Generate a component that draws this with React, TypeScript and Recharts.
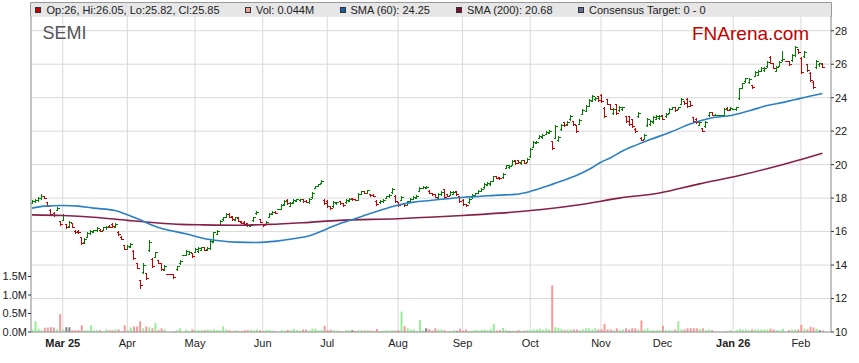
import React from 'react'
import { Bar, CartesianGrid, Cell, ComposedChart, Line, XAxis, YAxis } from 'recharts'

// one row per trading day: [open, high, low, close, volume (M)]
const feb25 = [
    [17.72, 17.88, 17.68, 17.82, 0.06], [17.8, 17.92, 17.76, 17.88, 0.29], [17.86, 18.05, 17.84, 18.0, 0.09],
    [17.98, 18.22, 17.95, 18.15, 0.05], [18.12, 18.15, 17.98, 18.02, 0.11], [17.75, 17.78, 17.5, 17.55, 0.12],
    [17.3, 17.32, 17.0, 17.05, 0.13], [17.12, 17.15, 16.95, 16.98, 0.12], [17.3, 17.48, 17.28, 17.42, 0.07],
    [16.62, 16.66, 16.42, 16.45, 0.48],
]
const mar25 = [
    [16.72, 17.06, 16.7, 16.98, 0.07], [16.45, 16.48, 16.22, 16.28, 0.13], [16.32, 16.62, 16.3, 16.55, 0.13],
    [16.5, 16.52, 16.25, 16.3, 0.05], [16.05, 16.1, 15.9, 15.95, 0.05], [16.05, 16.1, 15.92, 15.98, 0.05],
    [15.65, 15.68, 15.27, 15.32, 0.18], [15.35, 15.6, 15.33, 15.55, 0.05], [15.7, 15.96, 15.67, 15.9, 0.05],
    [15.9, 16.1, 15.88, 16.05, 0.18], [16.0, 16.12, 15.98, 16.08, 0.05], [16.08, 16.27, 16.05, 16.22, 0.05],
    [16.12, 16.15, 16.02, 16.05, 0.05], [16.1, 16.3, 16.08, 16.25, 0.02], [16.25, 16.35, 16.18, 16.3, 0.07],
    [16.35, 16.38, 16.25, 16.28, 0.05], [16.45, 16.5, 16.3, 16.32, 0.05], [16.3, 16.5, 16.28, 16.45, 0.07],
    [16.0, 16.02, 15.8, 15.85, 0.07], [15.7, 15.72, 15.55, 15.58, 0.02], [15.2, 15.22, 14.93, 14.98, 0.18],
]
const apr25 = [
    [14.98, 15.2, 14.95, 15.15, 0.05], [15.1, 15.3, 15.05, 15.25, 0.12], [14.85, 14.88, 14.34, 14.4, 0.15],
    [14.1, 14.12, 13.8, 13.85, 0.15], [13.1, 13.12, 12.65, 12.8, 0.29], [13.6, 14.1, 13.55, 14.0, 0.1],
    [13.5, 13.52, 13.15, 13.2, 0.15], [14.87, 15.5, 14.85, 15.4, 0.13], [14.35, 14.4, 13.87, 13.95, 0.1],
    [14.5, 14.8, 14.48, 14.75, 0.24], [14.3, 14.32, 14.1, 14.15, 0.05], [14.1, 14.12, 13.7, 13.75, 0.1],
    [13.72, 14.0, 13.7, 13.92, 0.07], [13.45, 13.47, 13.2, 13.3, 0.02], [13.75, 13.95, 13.7, 13.92, 0.05],
    [14.1, 14.3, 14.08, 14.25, 0.1], [14.62, 14.9, 14.6, 14.85, 0.07], [14.68, 14.85, 14.65, 14.8, 0.03],
    [14.7, 14.72, 14.5, 14.55, 0.07],
]
const may25 = [
    [14.8, 15.0, 14.78, 14.95, 0.05], [14.85, 15.05, 14.8, 15.0, 0.05], [14.9, 15.1, 14.88, 15.05, 0.05],
    [15.08, 15.1, 14.88, 14.92, 0.05], [14.95, 15.05, 14.9, 15.02, 0.07], [15.0, 15.5, 14.98, 15.45, 0.05],
    [15.4, 16.0, 15.37, 15.95, 0.07], [15.85, 16.07, 15.83, 16.02, 0.05], [16.4, 16.7, 16.37, 16.65, 0.05],
    [16.75, 16.9, 16.72, 16.88, 0.15], [16.9, 17.12, 16.88, 17.08, 0.07], [17.08, 17.1, 16.85, 16.9, 0.05],
    [16.92, 16.95, 16.7, 16.75, 0.03], [16.72, 16.9, 16.7, 16.85, 0.05], [16.84, 16.86, 16.62, 16.66, 0.03],
    [16.6, 16.62, 16.5, 16.52, 0.03], [16.58, 16.62, 16.43, 16.46, 0.05], [16.5, 16.5, 16.35, 16.38, 0.05],
    [16.36, 16.45, 16.35, 16.43, 0.06], [16.68, 16.9, 16.66, 16.85, 0.05], [17.1, 17.2, 17.08, 17.18, 0.06],
    [16.75, 16.77, 16.55, 16.58, 0.05],
]
const jun25 = [
    [16.45, 16.47, 16.35, 16.37, 0.03], [16.45, 16.65, 16.43, 16.6, 0.05], [16.9, 17.1, 16.88, 17.05, 0.06],
    [17.1, 17.2, 17.08, 17.18, 0.04], [17.18, 17.2, 17.1, 17.12, 0.03], [17.36, 17.66, 17.35, 17.6, 0.05],
    [17.62, 17.86, 17.6, 17.82, 0.04], [17.9, 17.92, 17.65, 17.7, 0.06], [17.55, 17.75, 17.53, 17.72, 0.05],
    [17.75, 17.95, 17.73, 17.9, 0.08], [17.85, 17.95, 17.8, 17.92, 0.05], [17.88, 17.96, 17.82, 17.94, 0.04],
    [17.95, 17.97, 17.78, 17.8, 0.07], [17.85, 17.87, 17.75, 17.78, 0.07], [17.75, 18.0, 17.7, 17.95, 0.04],
    [18.05, 18.35, 18.03, 18.3, 0.09], [18.6, 18.75, 18.58, 18.72, 0.09], [18.75, 18.85, 18.73, 18.82, 0.05],
    [18.9, 19.1, 18.88, 19.05, 0.06], [17.9, 17.92, 17.65, 17.7, 0.17],
]
const jul25 = [
    [17.85, 17.87, 17.45, 17.5, 0.05], [17.52, 17.55, 17.36, 17.4, 0.06], [17.5, 17.8, 17.48, 17.75, 0.05],
    [17.68, 17.78, 17.65, 17.75, 0.04], [17.8, 17.82, 17.65, 17.7, 0.03], [17.7, 17.72, 17.55, 17.58, 0.02],
    [17.75, 17.95, 17.73, 17.9, 0.05], [17.85, 18.0, 17.83, 17.97, 0.05], [18.0, 18.02, 17.88, 17.92, 0.05],
    [17.95, 17.96, 17.88, 17.9, 0.03], [17.9, 18.3, 17.88, 18.25, 0.05], [18.25, 18.45, 18.23, 18.42, 0.05],
    [18.42, 18.44, 18.3, 18.32, 0.04], [18.32, 18.5, 18.3, 18.47, 0.05], [18.25, 18.27, 18.15, 18.17, 0.04],
    [18.2, 18.22, 18.12, 18.14, 0.03], [17.85, 17.87, 17.6, 17.65, 0.08], [17.75, 17.9, 17.73, 17.85, 0.03],
    [17.8, 17.92, 17.76, 17.88, 0.03], [18.0, 18.15, 17.98, 18.1, 0.05], [18.1, 18.22, 18.05, 18.2, 0.04],
    [18.35, 18.6, 18.33, 18.55, 0.05], [18.15, 18.17, 17.75, 17.8, 0.04],
]
const aug25 = [
    [17.75, 17.77, 17.55, 17.58, 0.05], [17.9, 18.1, 17.88, 18.05, 0.55], [17.7, 17.72, 17.55, 17.58, 0.16],
    [17.6, 17.85, 17.58, 17.8, 0.1], [17.8, 18.0, 17.78, 17.95, 0.07], [17.95, 18.1, 17.92, 18.05, 0.07],
    [18.0, 18.2, 17.98, 18.15, 0.03], [18.45, 18.65, 18.43, 18.6, 0.32], [18.6, 18.7, 18.58, 18.68, 0.04],
    [18.62, 18.72, 18.58, 18.68, 0.1], [18.45, 18.47, 18.3, 18.32, 0.08], [18.3, 18.32, 18.2, 18.22, 0.04],
    [18.22, 18.24, 18.05, 18.08, 0.1], [18.02, 18.3, 18.0, 18.25, 0.07], [18.22, 18.4, 18.2, 18.35, 0.07],
    [18.55, 18.57, 18.0, 18.05, 0.05], [18.25, 18.27, 18.12, 18.15, 0.02], [18.2, 18.4, 18.18, 18.35, 0.03],
    [18.25, 18.4, 18.22, 18.35, 0.05], [18.4, 18.42, 18.2, 18.24, 0.03], [18.1, 18.12, 17.75, 17.8, 0.09],
]
const sep25 = [
    [17.9, 17.92, 17.6, 17.65, 0.04], [17.65, 17.67, 17.55, 17.57, 0.07], [17.75, 18.0, 17.73, 17.95, 0.03],
    [18.05, 18.25, 18.03, 18.2, 0.04], [18.2, 18.3, 18.18, 18.28, 0.06], [18.3, 18.5, 18.28, 18.45, 0.04],
    [18.45, 18.6, 18.42, 18.55, 0.06], [18.65, 18.9, 18.63, 18.85, 0.07], [18.8, 18.95, 18.78, 18.92, 0.05],
    [18.85, 19.05, 18.8, 19.0, 0.08], [19.05, 19.35, 19.03, 19.3, 0.22], [19.3, 19.32, 19.2, 19.22, 0.04],
    [19.25, 19.27, 19.15, 19.18, 0.05], [19.25, 19.5, 19.23, 19.45, 0.11], [19.8, 19.97, 19.78, 19.95, 0.06],
    [19.85, 19.97, 19.82, 19.93, 0.03], [20.0, 20.25, 19.98, 20.2, 0.04], [20.28, 20.3, 20.05, 20.1, 0.03],
    [20.25, 20.27, 20.1, 20.15, 0.05], [20.08, 20.3, 20.05, 20.25, 0.03], [20.25, 20.27, 20.08, 20.1, 0.04],
    [20.15, 20.4, 20.13, 20.35, 0.05],
]
const oct25 = [
    [20.5, 21.0, 20.48, 20.95, 0.06], [21.05, 21.4, 21.03, 21.35, 0.07], [21.3, 21.4, 21.28, 21.38, 0.07],
    [21.6, 21.75, 21.58, 21.72, 0.09], [21.65, 21.8, 21.62, 21.75, 0.06], [21.85, 22.0, 21.83, 21.95, 0.09],
    [21.9, 22.05, 21.88, 22.0, 0.07], [21.4, 21.42, 20.95, 21.0, 1.26], [21.6, 22.35, 21.58, 22.3, 0.13],
    [21.45, 21.7, 21.4, 21.65, 0.11], [22.1, 22.4, 22.08, 22.35, 0.09], [22.55, 22.57, 22.3, 22.35, 0.05],
    [22.4, 22.6, 22.38, 22.55, 0.07], [22.7, 22.97, 22.67, 22.92, 0.07], [22.6, 22.62, 22.35, 22.4, 0.07],
    [22.35, 22.37, 21.97, 22.02, 0.07], [22.45, 22.7, 22.43, 22.65, 0.05], [23.05, 23.3, 23.03, 23.25, 0.07],
    [23.2, 23.55, 23.18, 23.5, 0.1], [23.5, 23.9, 23.48, 23.85, 0.1], [23.8, 24.15, 23.78, 24.1, 0.07],
    [23.9, 24.05, 23.88, 24.0, 0.1], [24.1, 24.12, 23.8, 23.85, 0.07],
]
const nov25 = [
    [24.15, 24.2, 23.75, 23.8, 0.08], [23.4, 23.42, 22.87, 22.92, 0.22], [23.9, 23.92, 23.6, 23.65, 0.07],
    [23.6, 23.62, 23.3, 23.35, 0.07], [23.1, 23.4, 23.05, 23.35, 0.05], [23.6, 23.62, 23.05, 23.1, 0.1],
    [23.25, 23.5, 23.2, 23.45, 0.05], [23.3, 23.45, 23.28, 23.42, 0.07], [22.9, 22.92, 22.55, 22.6, 0.1],
    [22.9, 22.92, 22.35, 22.4, 0.07], [22.7, 22.72, 22.25, 22.3, 0.1], [22.15, 22.17, 21.95, 22.0, 0.1],
    [22.9, 23.15, 22.87, 23.1, 0.07], [21.62, 21.64, 21.47, 21.5, 0.31], [21.55, 21.8, 21.53, 21.75, 0.07],
    [22.35, 22.8, 22.33, 22.75, 0.1], [22.4, 22.65, 22.35, 22.6, 0.05], [22.55, 22.9, 22.5, 22.85, 0.05],
    [22.75, 22.97, 22.73, 22.92, 0.05], [22.8, 22.97, 22.75, 22.9, 0.05],
]
const dec25 = [
    [22.97, 22.99, 22.7, 22.72, 0.17], [22.88, 23.1, 22.85, 23.05, 0.05], [23.1, 23.4, 23.07, 23.35, 0.05],
    [23.32, 23.45, 23.3, 23.42, 0.05], [23.42, 23.45, 23.2, 23.25, 0.07], [23.32, 23.45, 23.3, 23.42, 0.29],
    [23.65, 23.97, 23.63, 23.92, 0.07], [23.78, 23.8, 23.63, 23.66, 0.07], [23.95, 23.97, 23.45, 23.5, 0.1],
    [23.8, 23.82, 23.5, 23.55, 0.1], [22.85, 22.87, 22.53, 22.58, 0.1], [22.75, 22.77, 22.5, 22.55, 0.1],
    [22.38, 22.6, 22.35, 22.55, 0.08], [22.18, 22.2, 22.0, 22.03, 0.1], [22.28, 22.6, 22.25, 22.55, 0.05],
    [22.95, 23.17, 22.93, 23.12, 0.07], [23.12, 23.15, 22.95, 22.98, 0.05], [22.96, 23.0, 22.95, 22.97, 0.02],
    [22.97, 23.4, 22.95, 23.35, 0.02], [23.4, 23.42, 23.25, 23.28, 0.02], [23.3, 23.42, 23.28, 23.4, 0.05],
]
const jan26 = [
    [23.3, 23.45, 23.25, 23.42, 0.05], [23.97, 24.6, 23.95, 24.55, 0.08], [24.6, 24.9, 24.56, 24.85, 0.07],
    [25.0, 25.2, 24.95, 25.15, 0.07], [24.95, 25.15, 24.9, 25.1, 0.05], [24.75, 24.77, 24.6, 24.62, 0.07],
    [25.3, 25.6, 25.28, 25.55, 0.07], [25.35, 25.65, 25.33, 25.6, 0.07], [25.6, 25.85, 25.58, 25.8, 0.07],
    [25.65, 25.82, 25.6, 25.78, 0.07], [25.88, 26.2, 25.85, 26.15, 0.07], [26.45, 26.47, 26.07, 26.1, 0.09],
    [26.05, 26.07, 25.75, 25.8, 0.07], [25.6, 25.9, 25.58, 25.85, 0.05], [25.9, 26.2, 25.88, 26.15, 0.05],
    [26.25, 26.8, 26.2, 26.3, 0.09], [26.2, 26.22, 25.95, 26.0, 0.05], [26.25, 26.6, 26.22, 26.55, 0.07],
    [26.55, 27.07, 26.5, 27.0, 0.07], [26.9, 26.92, 26.65, 26.7, 0.07],
]
const feb26 = [
    [26.4, 26.42, 25.5, 25.55, 0.19], [26.5, 26.8, 26.45, 26.75, 0.09], [26.0, 26.02, 25.6, 25.65, 0.07],
    [25.5, 25.52, 25.0, 25.05, 0.14], [24.95, 25.0, 24.55, 24.65, 0.12], [25.85, 26.25, 25.8, 26.2, 0.09],
    [26.0, 26.1, 25.9, 26.05, 0.05], [26.0, 26.05, 25.82, 25.85, 0.044],
]

// weekday slots (0 = Mon 17 Feb 2025) with no trading
const holidays = [44, 45, 49, 80, 223, 224, 228, 245]
// slots whose volume bar is drawn grey
const greyVolume = [11, 12, 104, 128, 138, 155, 256]

// [slot, value]
const sma60 = [
    [0, 17.4], [4, 17.52], [10, 17.56], [15, 17.52], [20, 17.4], [27, 17.26], [31, 17.0], [35.5, 16.67],
    [40, 16.32], [44.5, 16.08], [50, 15.87], [55.5, 15.6], [61, 15.45], [66.5, 15.37], [73, 15.35],
    [79.5, 15.43], [86, 15.6], [90.5, 15.77], [96, 16.17], [100, 16.47], [103.5, 16.67], [108, 16.96],
    [113, 17.26], [118.5, 17.56], [124, 17.76], [129.5, 17.86], [135, 17.96], [140.5, 18.05], [146, 18.11],
    [152, 18.18], [157, 18.22], [162, 18.4], [168, 18.75], [172, 19.0], [177, 19.35], [181.5, 19.75],
    [185, 20.14], [188, 20.4], [192.3, 20.84], [196.6, 21.18], [201, 21.5], [207.5, 21.93], [214, 22.43],
    [220.5, 22.77], [228, 22.97], [233.5, 23.23], [239, 23.53], [244.3, 23.72], [249.8, 23.96], [257, 24.25],
]
const sma200 = [
    [0, 17.0], [10, 16.96], [20, 16.86], [31, 16.67], [42, 16.5], [48, 16.43], [56, 16.4], [67, 16.38],
    [77, 16.43], [88, 16.53], [100, 16.67], [119, 16.77], [129, 16.86], [140, 16.96], [152, 17.1],
    [165, 17.3], [178, 17.6], [191, 18.0], [204, 18.3], [217, 18.85], [230, 19.35], [243, 19.95], [257, 20.68],
]

const monthStarts = [10, 31, 53, 75, 96, 119, 140, 162, 185, 205, 228, 250]
const monthLabels = ['Mar 25', 'Apr', 'May', 'Jun', 'Jul', 'Aug', 'Sep', 'Oct', 'Nov', 'Dec', 'Jan 26', 'Feb']
const priceTicks = [10, 12, 14, 16, 18, 20, 22, 24, 26, 28]
const volumeTicks = [0, 0.5, 1.0, 1.5]

const FONT = '"Liberation Sans", Arial, sans-serif'
const X_DOMAIN: [number, number] = [-0.33, 259.8]
const SLOT_PX = 800 / (X_DOMAIN[1] - X_DOMAIN[0])
const UP = '#008000'
const DOWN = '#cc0000'

interface Row {
    i: number
    hl: [number, number]
    o: number
    c: number
    vol: number
    gap: number
}

const rows: Row[] = []
{
    let slot = 0
    let prev = -1
    for (const [o, h, l, c, vol] of [feb25, mar25, apr25, may25, jun25, jul25, aug25, sep25, oct25, nov25, dec25, jan26, feb26].flat()) {
        while (holidays.includes(slot)) slot++
        rows.push({ i: slot, hl: [l, h], o, c, vol, gap: prev < 0 ? 1 : slot - prev })
        prev = slot
        slot++
    }
}

const sma60Data = sma60.map(([i, v]) => ({ i, v }))
const sma200Data = sma200.map(([i, v]) => ({ i, v }))

const legendItems = [
    { sx: 35, tx: 46.5, color: DOWN, text: 'Op:26, Hi:26.05, Lo:25.82, Cl:25.85' },
    { sx: 245, tx: 256, color: '#f4a0a0', text: 'Vol: 0.044M' },
    { sx: 340, tx: 350.5, color: '#0f63a8', text: 'SMA (60): 24.25' },
    { sx: 456, tx: 467, color: '#7a0f2e', text: 'SMA (200): 20.68' },
    { sx: 578, tx: 589, color: '#6a6a9a', text: 'Consensus Target: 0 - 0' },
]

const OhlcBar = (props: any) => {
    const { x, y, width, height, payload } = props
    if (!payload) return null
    const [lo, hi] = payload.hl
    const span = hi - lo
    const yOf = (p: number) => (span > 0 ? y + ((hi - p) / span) * height : y)
    const cx = Math.round(x + width / 2) + 0.5
    const yo = Math.round(yOf(payload.o)) + 0.5
    const yc = Math.round(yOf(payload.c)) + 0.5
    const left = payload.gap > 1 ? (payload.gap - 1) * SLOT_PX + 1.5 : 1.5
    const color = payload.c >= payload.o ? UP : DOWN
    return (
        <g stroke={color} strokeWidth={1} shapeRendering="crispEdges">
            <line x1={cx} x2={cx} y1={Math.round(y)} y2={Math.round(y + height) + 1} />
            <line x1={cx - left} x2={cx} y1={yo} y2={yo} />
            <line x1={cx} x2={cx + 2} y1={yc} y2={yc} />
        </g>
    )
}

const MonthTick = ({ x, y, payload }: any) => {
    const k = monthStarts.indexOf(payload.value)
    const label = monthLabels[k] ?? ''
    return (
        <text x={x} y={y + 14.5} textAnchor="middle" fontSize={11} fontFamily={FONT} fill="#222"
            fontWeight={label.includes(' ') ? 'bold' : 'normal'}>
            {label}
        </text>
    )
}

export default function App() {
    return (
        <div style={{ position: 'absolute', left: 0, top: 0, width: 859, height: 363, background: '#fff' }}>
            <ComposedChart width={859} height={363} data={rows} margin={{ top: 16, right: 0, bottom: 11, left: 0 }}>
                <CartesianGrid xAxisId="x" yAxisId="price" stroke="#d9d9d9" strokeWidth={1} />
                <XAxis
                    xAxisId="x"
                    dataKey="i"
                    type="number"
                    domain={X_DOMAIN}
                    allowDataOverflow
                    ticks={monthStarts}
                    interval={0}
                    height={20}
                    tickSize={0}
                    tickMargin={0}
                    axisLine={{ stroke: '#999' }}
                    tickLine={false}
                    tick={<MonthTick />}
                />
                <XAxis xAxisId="v" dataKey="i" type="number" orientation="top" height={0}
                    domain={X_DOMAIN} allowDataOverflow hide />
                <YAxis
                    yAxisId="price"
                    orientation="right"
                    domain={[10, 28.88]}
                    allowDataOverflow
                    ticks={priceTicks}
                    interval={0}
                    width={28}
                    tickSize={3}
                    tickMargin={1}
                    axisLine={{ stroke: '#999' }}
                    tickLine={{ stroke: '#333' }}
                    tick={{ fontSize: 11, fill: '#222', fontFamily: FONT }}
                />
                <YAxis
                    yAxisId="vol"
                    orientation="left"
                    domain={[0, 8.54]}
                    allowDataOverflow
                    ticks={volumeTicks}
                    interval={0}
                    width={31}
                    tickSize={3}
                    tickMargin={1}
                    axisLine={{ stroke: '#999' }}
                    tickLine={{ stroke: '#333' }}
                    tick={{ fontSize: 11, fill: '#222', fontFamily: FONT }}
                    tickFormatter={(v: number) => `${v.toFixed(1)}M`}
                />
                <Bar xAxisId="v" yAxisId="vol" dataKey="vol" barSize={2} isAnimationActive={false}>
                    {rows.map(r => (
                        <Cell
                            key={`v-${r.i}`}
                            fill={greyVolume.includes(r.i) ? '#808080' : r.c >= r.o ? '#98ee98' : '#f49a9a'}
                        />
                    ))}
                </Bar>
                <Line xAxisId="x" yAxisId="price" data={sma200Data} dataKey="v" type="monotone"
                    stroke="#86204a" strokeWidth={1.6} dot={false} activeDot={false} isAnimationActive={false} />
                <Line xAxisId="x" yAxisId="price" data={sma60Data} dataKey="v" type="monotone"
                    stroke="#2a80c2" strokeWidth={1.6} dot={false} activeDot={false} isAnimationActive={false} />
                <Bar xAxisId="x" yAxisId="price" dataKey="hl" barSize={3} shape={OhlcBar} isAnimationActive={false} />
            </ComposedChart>
            <svg width={859} height={60} style={{ position: 'absolute', left: 0, top: 0, pointerEvents: 'none' }}>
                <rect x={31} y={3} width={800} height={13.5} fill="#e6e6e6" />
                <line x1={30.5} x2={831.5} y1={2.5} y2={2.5} stroke="#999" />
                <line x1={30.5} x2={30.5} y1={2.5} y2={17} stroke="#999" />
                <line x1={831.5} x2={831.5} y1={2.5} y2={17} stroke="#999" />
                {legendItems.map(item => (
                    <g key={item.text}>
                        <rect x={item.sx + 0.5} y={7.5} width={5} height={5} fill={item.color} stroke="#333" strokeWidth={1} />
                        <text x={item.tx} y={14} fontSize={11} fontFamily={FONT} fill="#222">{item.text}</text>
                    </g>
                ))}
                <text x={42.5} y={39} fontSize={18} fontFamily={FONT} fill="#555">SEMI</text>
                <text x={692} y={40} fontSize={19} fontFamily={FONT} fill="#c40000">FNArena.com</text>
            </svg>
        </div>
    )
}
